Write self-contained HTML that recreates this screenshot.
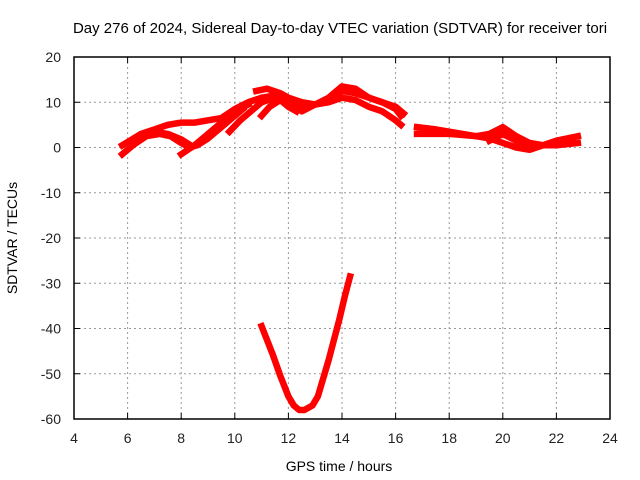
<!DOCTYPE html>
<html><head><meta charset="utf-8"><style>
body{margin:0;background:#fff}
svg{display:block;font-family:"Liberation Sans",sans-serif}
</style></head><body>
<svg id="chart" width="640" height="480">
<text x="340" y="33" font-size="15" text-anchor="middle" fill="#000">Day 276 of 2024, Sidereal Day-to-day VTEC variation (SDTVAR) for receiver tori</text>
<text x="339" y="471" font-size="14" text-anchor="middle">GPS time / hours</text>
<text transform="translate(17,238) rotate(-90)" font-size="14" text-anchor="middle">SDTVAR / TECUs</text>
<g id="grid"></g><g id="ticks"></g><g id="series"></g>
<rect x="74" y="57" width="536" height="362" fill="none" stroke="#000" stroke-width="1.5"/>
</svg>
<script>
const xTicks=[4,6,8,10,12,14,16,18,20,22,24];
const yTicks=[20,10,0,-10,-20,-30,-40,-50,-60];
const traceA=[[5.8,0.5],[6.5,3],[7,4],[7.5,5],[8,5.5],[8.5,5.5],[9,6],[9.5,6.5],[10,8.5],[10.5,10],[11,11],[11.5,11.5],[12,10.5],[12.5,9.5],[13,9.5],[13.5,10.5],[14,12.5],[14.5,12],[15,11],[15.5,10],[16,8.5],[16.2,7]];
const traceB=[[5.8,-1.5],[6.2,0.5],[6.7,2.5],[7.2,3],[7.6,2.5],[8,1],[8.3,0],[8.6,0.5],[9,2],[9.5,4.5],[10,7],[10.3,8.5]];
const traceC=[[6.5,2],[7,3.5],[7.5,3],[8,1.8],[8.4,0.3]];
const traceD=[[8,-1.5],[8.5,0.5],[9,3],[9.5,5.5],[10,8],[10.5,9.5]];
const traceE=[[9.8,3.5],[10.2,6],[10.6,8],[11,10],[11.5,11],[12,10],[12.5,8],[13,9.5],[13.5,10],[14,11],[14.5,10.5],[15,9],[15.5,8],[16,6],[16.2,5]];
const traceF=[[10.8,12.5],[11.2,13],[11.7,12],[12,11],[12.5,10],[13,9.5],[13.5,11],[14,13.5],[14.5,13],[15,11],[15.5,10],[16,9],[16.3,7.5]];
const traceG=[[11,7],[11.3,9],[11.7,10.5],[12,9],[12.3,8]];
const traceH=[[16.8,4.5],[17.5,4],[18,3.5],[19,2.5],[19.5,3],[20,4.5],[20.5,2.5],[21,1],[21.5,0.5],[22,1.5],[22.8,2.5]];
const traceI=[[16.8,3],[17.5,3],[18,3],[19,2.5],[19.5,2],[20,1],[20.5,0],[21,-0.5],[21.5,0.5],[22,0.5],[22.8,1]];
const traceJ=[[19.5,1.5],[20,3],[20.5,1.5],[21,0]];
const traceK=[[11,-39.5],[11.2,-42.5],[11.4,-45.5],[11.7,-50.5],[12,-55],[12.2,-57],[12.4,-58],[12.6,-58],[12.9,-57],[13.1,-55],[13.3,-51],[13.5,-47],[13.7,-42.5],[13.9,-38],[14.1,-33],[14.3,-28.5]];
const traces=[traceA,traceB,traceC,traceD,traceE,traceF,traceG,traceH,traceI,traceJ,traceK];
const X0=74,X1=610,Y0=419,Y1=57;
function xs(v){return X0+(v-4)/20*(X1-X0);}
function ys(v){return Y0-(v+60)/80*(Y0-Y1);}
const NS="http://www.w3.org/2000/svg";
const grid=document.getElementById('grid'),ticks=document.getElementById('ticks'),ser=document.getElementById('series');
function mk(tag,attrs,parent){const e=document.createElementNS(NS,tag);for(const k in attrs)e.setAttribute(k,attrs[k]);parent.appendChild(e);return e;}
xTicks.forEach(t=>{const x=xs(t);
 if(t>4&&t<24){const g=mk('line',{x1:x,x2:x,y1:Y1,y2:Y0,stroke:'#999','stroke-dasharray':'2,3'},grid);
 
 }
 mk('line',{x1:x,x2:x,y1:Y0,y2:Y0-6,stroke:'#000'},ticks);mk('line',{x1:x,x2:x,y1:Y1,y2:Y1+6,stroke:'#000'},ticks);
 const l=mk('text',{x:x,y:Y0+24,'font-size':14,'text-anchor':'middle',fill:'#222'},ticks);l.textContent=t;
 
 });
yTicks.forEach(t=>{const y=ys(t);
 if(t>-60&&t<20){const g=mk('line',{x1:X0,x2:X1,y1:y,y2:y,stroke:'#999','stroke-dasharray':'2,3'},grid);
 
 }
 mk('line',{x1:X0,x2:X0+6,y1:y,y2:y,stroke:'#000'},ticks);mk('line',{x1:X1,x2:X1-6,y1:y,y2:y,stroke:'#000'},ticks);
 const l=mk('text',{x:X0-13,y:y+5,'font-size':14,'text-anchor':'end',fill:'#222'},ticks);l.textContent=t;
 
 });
traces.forEach(tr=>{const p=mk('polyline',{points:tr.map(d=>xs(d[0])+','+ys(d[1])).join(' '),fill:'none',stroke:'#f00','stroke-width':6.5,'stroke-linejoin':'round','stroke-linecap':'square'},ser);
 
 });
</script>
</body></html>
